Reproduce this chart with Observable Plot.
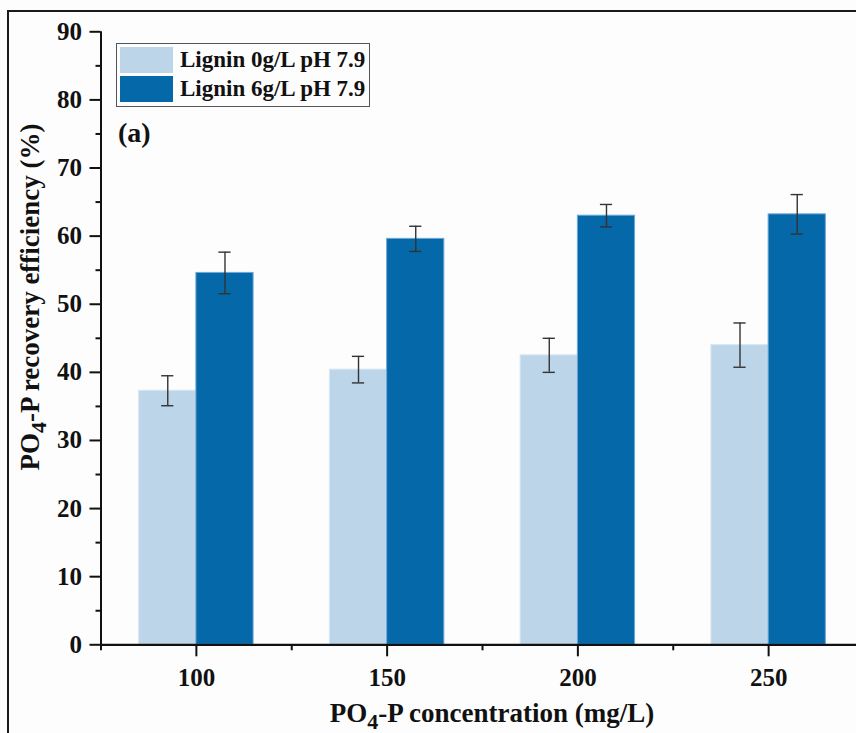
<!DOCTYPE html>
<html>
<head>
<meta charset="utf-8">
<script src="https://cdn.jsdelivr.net/npm/d3@7"></script>
<script src="https://cdn.jsdelivr.net/npm/@observablehq/plot@0.6"></script>
<style>
  html, body { margin: 0; padding: 0; background: #fdfdfd; overflow: hidden; }
  #wrap { position: relative; width: 856px; height: 733px; font-family: "Liberation Serif", "Times New Roman", serif; font-weight: bold; }
  #chart { position: absolute; left: 0; top: 0; }
  #frame { position: absolute; left: 7px; top: 10px; width: 900px; height: 800px; border-left: 2px solid #1a1a1a; border-top: 2px solid #1a1a1a; pointer-events: none; }
  #legend { position: absolute; left: 116px; top: 43px; width: 252px; height: 62px; border: 1px solid #555; background: #fdfdfd; }
  .lg-row { position: absolute; left: 3px; height: 26px; display: flex; align-items: center; }
  .lg-sw { width: 53px; height: 26px; }
  .lg-tx { margin-left: 7px; font-size: 23px; color: #111; white-space: nowrap; }
  #panel { position: absolute; left: 118px; top: 117px; font-size: 28px; color: #111; }
</style>
</head>
<body>
<div id="wrap">
  <div id="chart"></div>
  <div id="frame"></div>
  <div id="legend"></div>
  <div id="panel">(a)</div>
</div>
<script>
// ---- data ----
const concentrations = [100, 150, 200, 250];
const seriesNames = ["Lignin 0g/L pH 7.9", "Lignin 6g/L pH 7.9"];
const lignin0 = [37.3, 40.4, 42.5, 44.0];
const lignin0Err = [2.2, 1.95, 2.5, 3.25];
const lignin6 = [54.6, 59.6, 63.0, 63.2];
const lignin6Err = [3.05, 1.85, 1.65, 2.9];
const yTicks = [0, 10, 20, 30, 40, 50, 60, 70, 80, 90];
const yMinorTicks = [5, 15, 25, 35, 45, 55, 65, 75, 85];
const xTicks = [100, 150, 200, 250];
const xMinorTicks = [75, 125, 175, 225];

// ---- styles ----
const fills = ["#bdd5e8", "#0568a9"];
const edges = ["#d6e6f3", "#6fa9d6"];
const barW = 15;     // bar width in concentration units
const capHalf = 1.6; // half cap width in concentration units

const rows = [];
concentrations.forEach((c, i) => {
  rows.push({conc: c, series: seriesNames[0], s: 0, value: lignin0[i], err: lignin0Err[i], x1: c - barW, x2: c});
  rows.push({conc: c, series: seriesNames[1], s: 1, value: lignin6[i], err: lignin6Err[i], x1: c, x2: c + barW});
});
rows.forEach(d => { d.cx = (d.x1 + d.x2) / 2; d.lo = d.value - d.err; d.hi = d.value + d.err; });
const caps = rows.flatMap(d => [{cx: d.cx, y: d.lo}, {cx: d.cx, y: d.hi}]);

const mL = 100.5, mR = -7.5, mT = 31.3, mB = 733 - 644.3;

const chart = Plot.plot({
  width: 856,
  height: 733,
  marginLeft: mL,
  marginRight: mR,
  marginTop: mT,
  marginBottom: mB,
  style: {background: "transparent", fontFamily: "Liberation Serif, Times New Roman, serif", fontWeight: "bold", fontSize: "25px", color: "#111"},
  x: {type: "linear", domain: [75, 275], range: [mL, 856 - mR]},
  y: {domain: [0, 90], range: [733 - mB, mT]},
  color: {domain: seriesNames, range: fills},
  marks: [
    Plot.rectY(rows, {x1: "x1", x2: "x2", y1: 0, y2: "value", fill: "series", stroke: d => edges[d.s], strokeWidth: 1}),
    Plot.ruleX(rows, {x: "cx", y1: "lo", y2: "hi", stroke: "#333", strokeWidth: 1.4}),
    Plot.ruleY(caps, {y: "y", x1: d => d.cx - capHalf, x2: d => d.cx + capHalf, stroke: "#333", strokeWidth: 1.4}),
    Plot.axisY({ticks: yTicks, tickSize: 11, tickPadding: 8, strokeWidth: 2, stroke: "#111", label: null, tickFormat: d => String(d)}),
    Plot.axisY({ticks: yMinorTicks, tickSize: 5, strokeWidth: 2, stroke: "#111", label: null, tickFormat: () => ""}),
    Plot.axisX({ticks: xTicks, tickSize: 12, tickPadding: 11, strokeWidth: 2, stroke: "#111", label: null, tickFormat: d => String(d)}),
    Plot.axisX({ticks: xMinorTicks, tickSize: 6, strokeWidth: 2, stroke: "#111", label: null, tickFormat: () => ""}),
    Plot.ruleX([75], {y1: 0, y2: 90, stroke: "#111", strokeWidth: 2}),
    Plot.ruleY([0], {stroke: "#111", strokeWidth: 2.2})
  ]
});
document.getElementById("chart").appendChild(chart);

// axis titles with subscript
const svg = d3.select(chart);
function title(sel) {
  sel.attr("font-family", "Liberation Serif, Times New Roman, serif")
     .attr("font-weight", "bold").attr("font-size", 27).attr("fill", "#111")
     .attr("text-anchor", "middle");
  sel.append("tspan").text("PO");
  sel.append("tspan").attr("dy", 7).attr("font-size", 22).text("4");
  sel.append("tspan").attr("dy", -7).text("-P ");
  return sel;
}
const xt = title(svg.append("text").attr("x", 492).attr("y", 722));
xt.append("tspan").text("concentration (mg/L)");
const yt = title(svg.append("text").attr("transform", "translate(39,297) rotate(-90)"));
yt.append("tspan").text("recovery efficiency (%)");

// legend
const lg = document.getElementById("legend");
seriesNames.forEach((name, i) => {
  const row = document.createElement("div");
  row.className = "lg-row";
  row.style.top = (3 + i * 29) + "px";
  const sw = document.createElement("div");
  sw.className = "lg-sw";
  sw.style.background = fills[i];
  const tx = document.createElement("span");
  tx.className = "lg-tx";
  tx.textContent = name;
  row.appendChild(sw); row.appendChild(tx);
  lg.appendChild(row);
});
</script>
</body>
</html>
